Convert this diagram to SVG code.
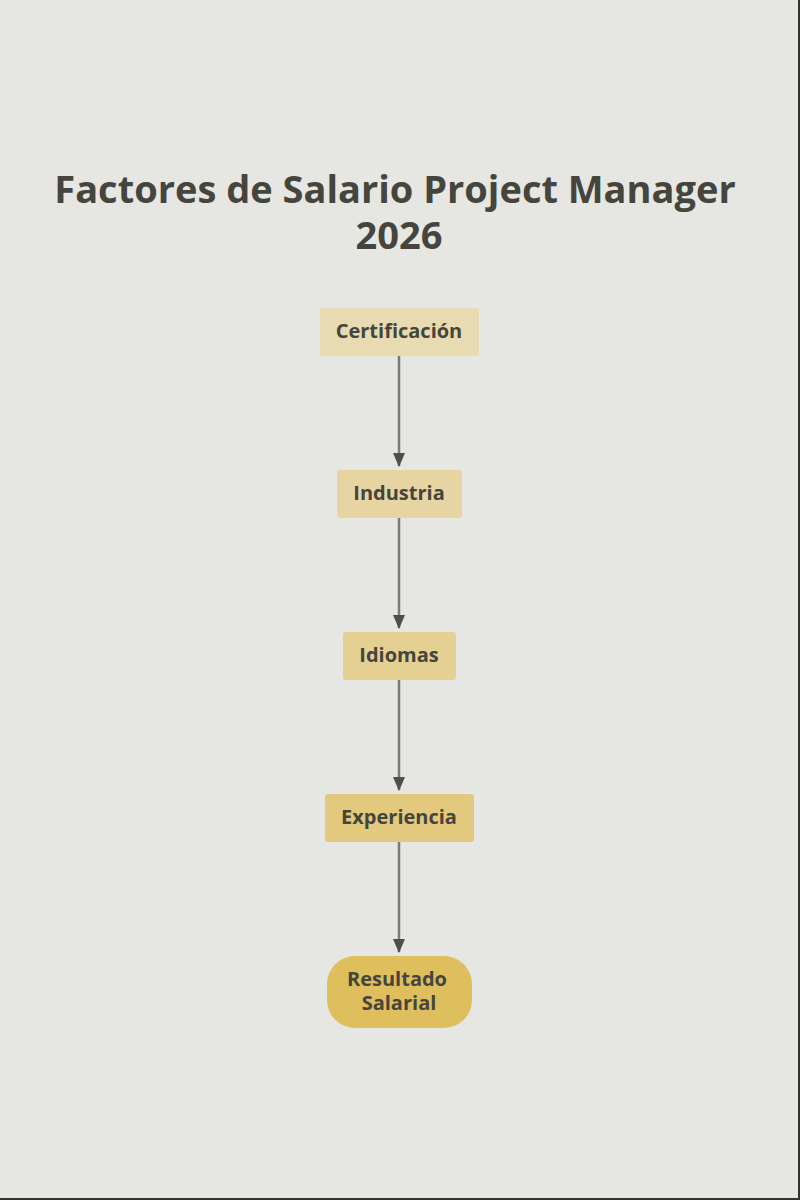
<svg xmlns="http://www.w3.org/2000/svg" width="800" height="1200" viewBox="0 0 800 1200">
<style>
text{font-family:"Open Sans","Noto Sans",sans-serif;font-weight:bold;fill:#45453d;text-anchor:middle}
.t{font-size:38px}
.n{font-size:20px}
.e{stroke:#7a7a76;stroke-width:2.5;fill:none;marker-end:url(#a)}
</style>
<defs><marker id="a" markerWidth="14" markerHeight="12" refX="13" refY="6" orient="auto" markerUnits="userSpaceOnUse"><path d="M0,0L14,6L0,12Z" fill="#4e4e4a"/></marker></defs>
<rect width="800" height="1200" fill="#e6e6e3"/>
<path d="M799,0V1199H0" stroke="#333" stroke-width="2" fill="none"/>
<text class="t" x="395" y="203">Factores de Salario Project Manager</text>
<text class="t" x="399" y="249">2026</text>
<g id="edges">
<line class="e" x1="399" y1="356" x2="399" y2="466"/>
<line class="e" x1="399" y1="518" x2="399" y2="628"/>
<line class="e" x1="399" y1="680" x2="399" y2="790"/>
<line class="e" x1="399" y1="842" x2="399" y2="952"/>
</g>
<g id="n1"><rect x="320" y="308" width="159" height="48" rx="3" fill="#e8dbb1"/><text class="n" x="399" y="338">Certificación</text></g>
<g id="n2"><rect x="337" y="470" width="125" height="48" rx="3" fill="#e6d5a2"/><text class="n" x="399" y="500">Industria</text></g>
<g id="n3"><rect x="343" y="632" width="113" height="48" rx="3" fill="#e5d093"/><text class="n" x="399" y="662">Idiomas</text></g>
<g id="n4"><rect x="325" y="794" width="149" height="48" rx="3" fill="#e3c97e"/><text class="n" x="399" y="824">Experiencia</text></g>
<g id="n5"><rect x="327" y="956" width="145" height="72" rx="28" fill="#dfbe5e"/><text class="n" x="397" y="986">Resultado</text><text class="n" x="399" y="1010">Salarial</text></g>
</svg>
